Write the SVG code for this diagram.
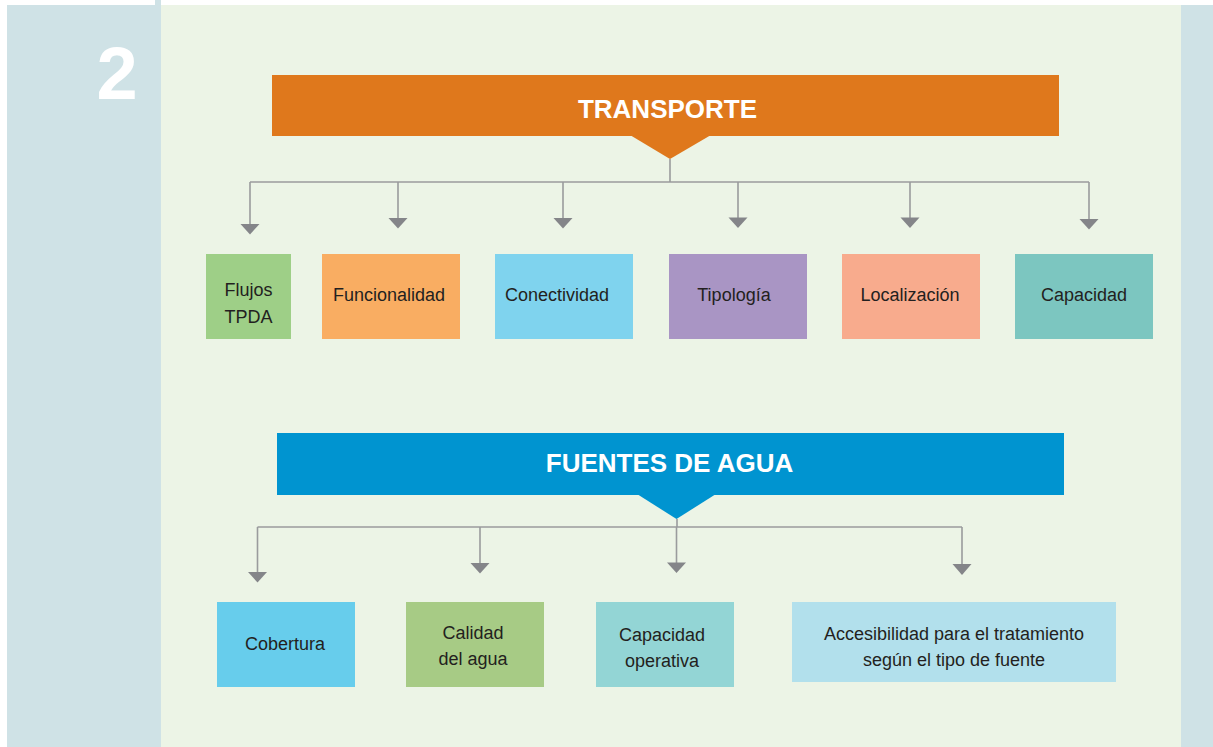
<svg xmlns="http://www.w3.org/2000/svg" width="1213" height="747" viewBox="0 0 1213 747">
<style>
.t{font-family:"Liberation Sans",Arial,sans-serif;font-size:18px;fill:#231f20;text-anchor:middle}
.h{font-family:"Liberation Sans",Arial,sans-serif;font-size:26px;font-weight:bold;fill:#ffffff;text-anchor:middle}
.ln{stroke:#9a9b9d;stroke-width:1.6;fill:none}
.ah{fill:#848589}
</style>
<rect x="0" y="0" width="1213" height="747" fill="#ffffff"/>
<rect x="7" y="5" width="154" height="742" fill="#cfe2e6"/>
<rect x="155" y="0" width="6" height="5" fill="#cfe2e6"/>
<rect x="161" y="5" width="1020" height="742" fill="#ecf4e6"/>
<rect x="1181" y="5" width="32" height="742" fill="#cfe2e6"/>
<text x="117" y="99" font-family="Liberation Sans,Arial,sans-serif" font-size="74" font-weight="bold" fill="#ffffff" text-anchor="middle">2</text>

<g id="connectors">
  <path class="ln" d="M670,159 V182 M250,182 H1089 M250,182 V225 M398,182 V219 M563,182 V219 M738,182 V218 M910,182 V218 M1089,182 V219"/>
  <polygon class="ah" points="240.5,224 259.5,224 250,234.5"/>
  <polygon class="ah" points="388.5,218 407.5,218 398,228.5"/>
  <polygon class="ah" points="553.5,218 572.5,218 563,228.5"/>
  <polygon class="ah" points="728.5,217.5 747.5,217.5 738,228"/>
  <polygon class="ah" points="900.5,217.5 919.5,217.5 910,228"/>
  <polygon class="ah" points="1079.5,219 1098.5,219 1089,229.5"/>
  <path class="ln" d="M677,519 V527 M257.5,527 H962 M257.5,527 V573 M480,527 V564 M676.5,527 V563 M962,527 V565"/>
  <polygon class="ah" points="248,572 267,572 257.5,582.5"/>
  <polygon class="ah" points="470.5,563 489.5,563 480,573.5"/>
  <polygon class="ah" points="667,562.5 686,562.5 676.5,573"/>
  <polygon class="ah" points="952.5,564 971.5,564 962,575"/>
</g>

<g id="transporte">
  <rect x="272" y="75" width="787" height="61" fill="#df781c"/>
  <polygon points="630,135 711,135 670,159" fill="#df781c"/>
  <text class="h" x="667.5" y="118">TRANSPORTE</text>
</g>
<g id="flujos">
  <rect x="206" y="254" width="85" height="85" fill="#9ecf87"/>
  <text class="t" x="248.5" y="296">Flujos</text>
  <text class="t" x="248.5" y="323">TPDA</text>
</g>
<g id="funcionalidad">
  <rect x="322" y="254" width="138" height="85" fill="#f9ad62"/>
  <text class="t" x="389" y="301">Funcionalidad</text>
</g>
<g id="conectividad">
  <rect x="495" y="254" width="138" height="85" fill="#7fd3ee"/>
  <text class="t" x="557" y="301">Conectividad</text>
</g>
<g id="tipologia">
  <rect x="669" y="254" width="138" height="85" fill="#a995c4"/>
  <text class="t" x="734" y="301">Tipología</text>
</g>
<g id="localizacion">
  <rect x="842" y="254" width="138" height="85" fill="#f8ab8d"/>
  <text class="t" x="910" y="301">Localización</text>
</g>
<g id="capacidad">
  <rect x="1015" y="254" width="138" height="85" fill="#7cc6c0"/>
  <text class="t" x="1084" y="301">Capacidad</text>
</g>

<g id="fuentes">
  <rect x="277" y="433" width="787" height="62" fill="#0094d0"/>
  <polygon points="637,494 716,494 676.5,519" fill="#0094d0"/>
  <text class="h" x="669.5" y="472">FUENTES DE AGUA</text>
</g>
<g id="cobertura">
  <rect x="217" y="602" width="138" height="85" fill="#67cdec"/>
  <text class="t" x="285" y="650">Cobertura</text>
</g>
<g id="calidad">
  <rect x="406" y="602" width="138" height="85" fill="#a7cb85"/>
  <text class="t" x="473" y="639">Calidad</text>
  <text class="t" x="473" y="665">del agua</text>
</g>
<g id="capacidad-operativa">
  <rect x="596" y="602" width="138" height="85" fill="#93d5d5"/>
  <text class="t" x="662" y="641">Capacidad</text>
  <text class="t" x="662" y="667">operativa</text>
</g>
<g id="accesibilidad">
  <rect x="792" y="602" width="324" height="80" fill="#b2e0ec"/>
  <text class="t" x="954" y="640">Accesibilidad para el tratamiento</text>
  <text class="t" x="954" y="666">según el tipo de fuente</text>
</g>
</svg>
